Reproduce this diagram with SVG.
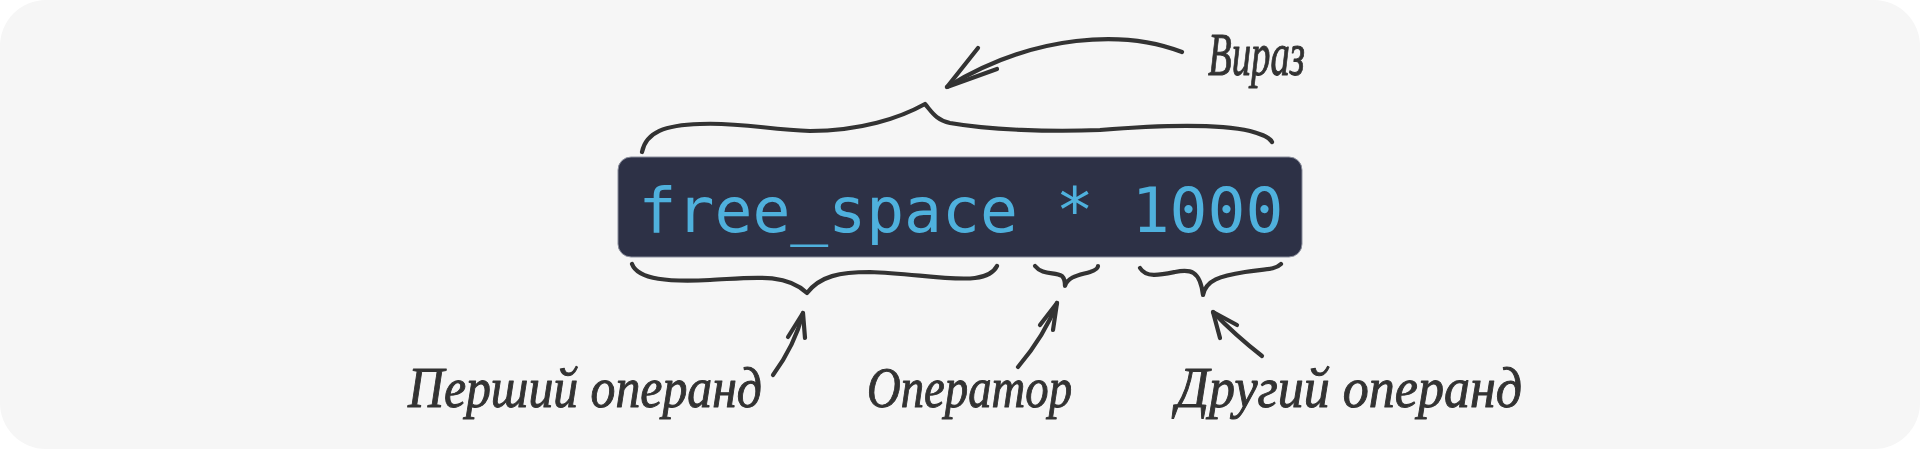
<svg xmlns="http://www.w3.org/2000/svg" width="1920" height="449" viewBox="0 0 1920 449">
<style>
.bg{fill:#f6f6f6}
.code-box{fill:#2d3146;stroke:#8a8e9c;stroke-width:1}
.code{font-family:"DejaVu Sans Mono","Liberation Mono",monospace;font-size:63px;fill:#4fb1dd}
.hand{font-family:"Liberation Serif","DejaVu Serif",serif;font-style:italic;font-size:56px;fill:#333333;stroke:#333333;stroke-width:1;stroke-linejoin:round}
.ink{fill:none;stroke:#333333;stroke-width:4.2;stroke-linecap:round;stroke-linejoin:round}
</style>
<rect class="bg" x="0" y="0" width="1920" height="449" rx="46" ry="46"/>
<g id="expression">
<rect class="code-box" x="618" y="157" width="684" height="100" rx="13" ry="13"/>
<text class="code" x="961" y="232" text-anchor="middle">free_space * 1000</text>
</g>
<g id="label-expression">
<text class="hand" x="1208" y="75" textLength="97" lengthAdjust="spacingAndGlyphs" style="font-size:62px">Вираз</text>
</g>
<g id="label-first-operand">
<text class="hand" x="408" y="407" textLength="354" lengthAdjust="spacingAndGlyphs">Перший операнд</text>
</g>
<g id="label-operator">
<text class="hand" x="867" y="407" textLength="205" lengthAdjust="spacingAndGlyphs">Оператор</text>
</g>
<g id="label-second-operand">
<text class="hand" x="1176" y="407" textLength="346" lengthAdjust="spacingAndGlyphs">Другий операнд</text>
</g>
<g id="connectors">
<path class="ink" d="M642,152 C646,132 665,125 700,124 C740,122 770,130 810,131 C860,131 900,118 925,104 C932,112 936,120 950,123 C990,130 1050,132 1100,130 C1160,125 1220,124 1250,131 C1265,135 1270,138 1272,142"/>
<path class="ink" d="M1182,52 C1125,30 1035,33 947,87"/>
<path class="ink" d="M978,48 L947,87 L997,69"/>
<path class="ink" d="M632,264 C638,280 670,282 710,280 C750,278 785,272 807,293 C820,276 840,272 870,272 C910,273 950,281 975,278 C990,276 995,270 997,266"/>
<path class="ink" d="M1035,266 C1042,275 1055,272 1062,276 C1065,279 1065,283 1065,286 C1068,276 1080,275 1090,272 C1096,270 1098,268 1098,266"/>
<path class="ink" d="M1140,268 C1146,278 1160,275 1175,272 C1190,269 1200,270 1203,295 C1206,280 1220,276 1245,272 C1265,269 1275,270 1281,264"/>
<path class="ink" d="M773,375 Q795,345 803,313"/>
<path class="ink" d="M788,337 L803,313 L805,338"/>
<path class="ink" d="M1018,367 Q1045,335 1057,303"/>
<path class="ink" d="M1040,325 L1057,303 L1053,330"/>
<path class="ink" d="M1262,356 Q1235,335 1213,312"/>
<path class="ink" d="M1220,338 L1213,312 L1237,325"/>
</g>
</svg>
